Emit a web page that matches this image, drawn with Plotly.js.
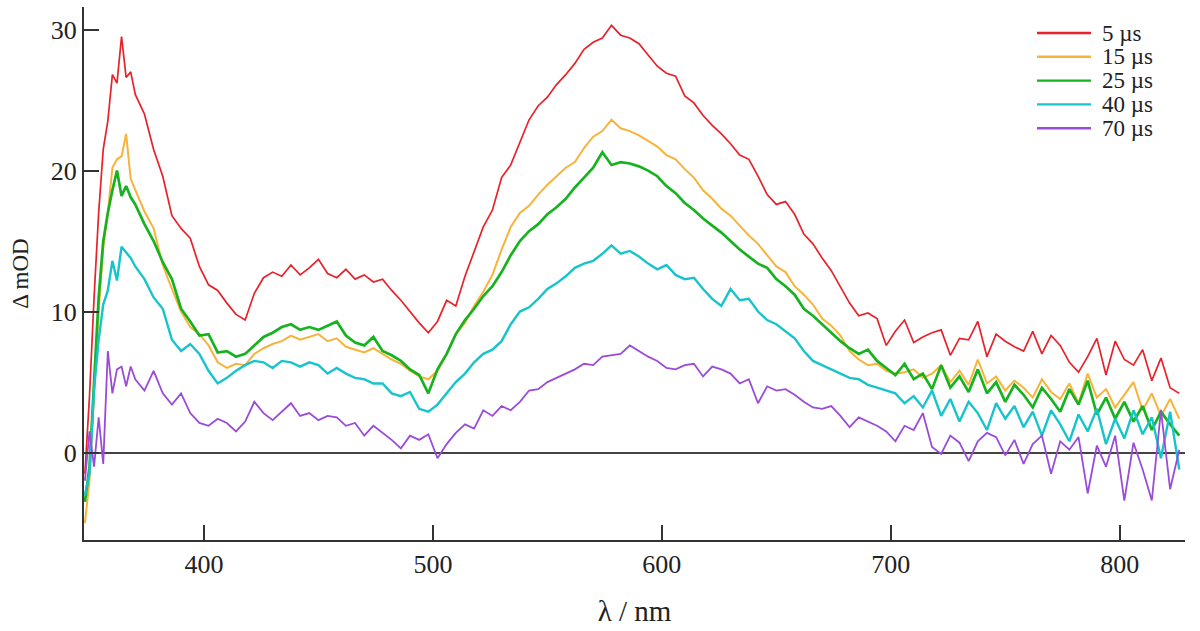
<!DOCTYPE html>
<html>
<head>
<meta charset="utf-8">
<script src="https://cdn.plot.ly/plotly-3.0.1.min.js"></script>
<style>html,body{margin:0;padding:0;background:#fff;}#chart{width:1200px;height:631px;}</style>
</head>
<body>
<div id="chart"></div>
<script>
// Wavelength grid (nm)
const wavelength = [348,350,352,354,356,358,360,362,364,366,368,370,
374,378,382,386,390,394,398,402,406,410,414,418,422,426,430,434,438,442,446,450,
454,458,462,466,470,474,478,482,486,490,494,498,502,506,510,514,518,522,526,530,
534,538,542,546,550,554,558,562,566,570,574,578,582,586,590,594,598,602,606,610,
614,618,622,626,630,634,638,642,646,650,654,658,662,666,670,674,678,682,686,690,
694,698,702,706,710,714,718,722,726,730,734,738,742,746,750,754,758,762,766,770,
774,778,782,786,790,794,798,802,806,810,814,818,822,826];

const seriesNames = ["5 \u00b5s","15 \u00b5s","25 \u00b5s","40 \u00b5s","70 \u00b5s"];

const mOD_5us = [-1.5,4.0,11.0,17.0,21.5,23.5,26.8,26.2,29.5,26.6,27.0,25.4,
24.0,21.5,19.6,16.8,15.9,15.2,13.2,11.9,11.5,10.6,9.8,9.4,11.3,12.4,12.8,12.5,13.3,12.6,13.1,13.7,
12.7,12.4,13.0,12.3,12.6,12.1,12.3,11.5,10.8,10.0,9.2,8.5,9.3,10.8,10.4,12.5,14.2,16.0,17.2,19.5,
20.4,22.0,23.6,24.6,25.2,26.1,26.8,27.6,28.6,29.1,29.4,30.3,29.6,29.4,29.0,28.2,27.4,26.9,26.7,25.3,
24.8,23.9,23.2,22.6,21.9,21.1,20.8,19.6,18.3,17.6,17.8,16.9,15.5,14.8,13.8,12.9,11.7,10.6,9.7,9.9,
9.5,7.6,8.6,9.4,7.8,8.2,8.5,8.7,6.9,8.1,8.0,9.3,6.8,8.4,7.9,7.5,7.2,8.6,7.0,8.3,
7.6,6.4,5.7,6.8,8.1,5.5,7.9,6.6,6.2,7.3,5.1,6.7,4.6,4.2];

const mOD_15us = [-5.0,-2.0,4.0,10.0,14.5,17.0,20.2,20.8,21.0,22.6,19.4,18.6,
17.1,15.9,13.3,11.6,10.0,8.9,8.4,7.6,6.4,6.0,6.3,6.2,7.0,7.4,7.7,7.9,8.3,8.0,8.2,8.4,
7.9,8.1,7.5,7.3,7.1,7.4,7.0,6.6,6.3,5.8,5.4,5.2,5.8,7.0,8.4,9.2,10.4,11.4,12.6,14.4,
16.0,17.0,17.5,18.3,19.0,19.6,20.2,20.6,21.6,22.4,22.8,23.6,23.0,22.8,22.5,22.1,21.7,21.1,20.8,20.1,
19.5,18.6,18.0,17.3,16.8,16.1,15.4,14.8,14.0,13.2,12.8,11.8,11.2,10.5,9.5,9.0,8.3,7.2,6.6,6.2,
6.3,5.8,5.6,5.7,5.9,5.3,5.6,6.2,5.0,5.8,4.8,6.6,4.9,5.4,4.4,5.1,4.6,3.9,5.2,4.3,
3.8,4.9,3.5,5.6,3.9,4.5,3.2,4.1,5.0,3.0,4.2,2.6,3.8,2.4];

const mOD_25us = [-3.5,-1.0,5.0,11.0,15.0,17.0,18.6,20.0,18.2,18.9,18.1,17.6,
16.2,15.0,13.5,12.3,10.2,9.3,8.3,8.4,7.1,7.2,6.8,7.0,7.6,8.2,8.5,8.9,9.1,8.7,8.9,8.7,
9.0,9.3,8.3,7.8,7.6,8.2,7.2,6.9,6.5,5.9,5.5,4.2,5.9,7.0,8.4,9.4,10.2,11.1,11.8,12.8,
14.0,15.0,15.7,16.2,16.9,17.4,18.0,18.8,19.5,20.2,21.3,20.4,20.6,20.5,20.3,20.0,19.6,18.9,18.4,17.7,
17.2,16.6,16.1,15.6,15.0,14.4,13.9,13.4,13.1,12.3,11.8,11.2,10.2,9.7,9.1,8.5,7.9,7.4,7.0,7.3,
6.5,6.0,5.5,6.3,5.2,5.6,4.5,6.2,4.6,5.4,4.3,5.9,4.2,5.0,3.6,4.8,4.1,3.2,4.6,3.8,
2.9,4.5,3.4,5.1,2.7,3.9,2.4,3.6,2.2,3.3,1.6,2.9,2.0,1.2];

const mOD_40us = [-3.0,-1.5,4.5,8.0,10.5,11.5,13.6,12.2,14.6,14.2,13.8,13.2,
12.3,11.0,10.2,8.0,7.2,7.7,7.0,5.8,4.9,5.3,5.8,6.2,6.5,6.4,6.0,6.5,6.4,6.1,6.4,6.2,
5.6,6.0,5.6,5.3,5.2,4.9,4.9,4.2,4.0,4.3,3.1,2.9,3.4,4.2,5.0,5.6,6.4,7.0,7.3,7.9,
9.1,10.0,10.3,10.9,11.6,12.0,12.5,13.1,13.4,13.6,14.1,14.7,14.1,14.3,13.9,13.4,13.0,13.3,12.6,12.3,
12.4,11.6,10.9,10.4,11.6,10.8,10.9,10.0,9.4,9.1,8.6,8.1,7.2,6.5,6.2,5.9,5.6,5.3,5.2,4.8,
4.6,4.4,4.2,3.5,4.0,3.2,4.4,2.6,3.8,2.2,3.6,2.8,1.6,3.5,2.4,3.3,1.8,2.9,1.2,3.0,
2.0,0.8,2.7,1.5,3.1,0.6,2.4,1.0,3.0,1.3,2.5,-0.4,2.9,-1.2];

const mOD_70us = [-2.0,1.5,-1.0,2.5,-0.8,7.2,4.2,5.9,6.1,4.7,6.1,5.2,
4.4,5.8,4.2,3.4,4.2,2.8,2.1,1.9,2.4,2.1,1.5,2.2,3.6,2.8,2.3,2.9,3.5,2.6,2.8,2.3,
2.6,2.5,1.9,2.1,1.2,1.9,1.4,0.9,0.3,1.2,0.9,1.3,-0.4,0.6,1.4,2.0,1.7,3.0,2.6,3.3,
3.0,3.6,4.4,4.5,5.0,5.3,5.6,5.9,6.3,6.2,6.8,6.9,7.0,7.6,7.2,6.8,6.5,6.0,5.9,6.2,
6.3,5.4,6.1,5.9,5.6,4.9,5.2,3.5,4.7,4.4,4.5,4.1,3.6,3.2,3.1,3.3,2.6,1.8,2.5,2.2,
1.9,1.5,0.8,1.9,1.6,2.8,0.4,-0.1,1.2,0.7,-0.6,0.8,1.4,1.1,-0.2,0.9,-0.8,0.6,1.2,-1.5,
0.8,0.2,1.1,-2.9,0.5,-1.0,1.2,-3.4,0.7,-1.2,-3.4,3.0,-2.6,0.2];

const xTicks = [400,500,600,700,800];
const yTicks = [0,10,20,30];

const series = [mOD_5us, mOD_15us, mOD_25us, mOD_40us, mOD_70us];
const colors = ["#e8222a","#f7b33a","#17b21f","#18c4cc","#9a4bd8"];
const widths = [1.7,2.0,2.7,2.4,1.8];

const traces = series.map((ys, i) => ({
  x: wavelength, y: ys, type: "scatter", mode: "lines",
  name: seriesNames[i],
  line: {color: colors[i], width: widths[i]}
}));

const font = {family: "'Liberation Serif', 'Times New Roman', serif", color: "#222"};

// Key (legend) drawn as paper-anchored annotations and short line samples
const plotL = 84, plotW = 1101, plotT = 7, plotH = 533;
const keyX0 = (1037 - plotL) / plotW, keyX1 = (1091 - plotL) / plotW, keyTextX = (1100 - plotL) / plotW;
const keyY = i => 1 - ((33 + 23.8 * i) - plotT) / plotH;
const keyShapes = seriesNames.map((n, i) => ({
  type: "line", xref: "paper", yref: "paper", x0: keyX0, x1: keyX1, y0: keyY(i), y1: keyY(i),
  line: {color: colors[i], width: 2.4}
}));
const keyText = seriesNames.map((n, i) => ({
  xref: "paper", yref: "paper", x: keyTextX, y: keyY(i), xanchor: "left", yanchor: "middle",
  text: n, showarrow: false, font: Object.assign({size: 23}, font)
}));

const layout = {
  width: 1200, height: 631,
  margin: {l: 84, r: 15, t: 7, b: 91},
  paper_bgcolor: "#fff", plot_bgcolor: "#fff",
  font: Object.assign({size: 22}, font),
  showlegend: false,
  shapes: keyShapes,
  annotations: keyText,
  xaxis: {
    range: [347.6, 828.5], tickvals: xTicks, ticks: "inside", ticklen: 15, tickwidth: 2,
    tickcolor: "#333", showline: true, linecolor: "#333", linewidth: 2,
    showgrid: false, zeroline: false, tickfont: Object.assign({size: 26}, font),
    title: {text: "\u03bb / nm", font: Object.assign({size: 29}, font), standoff: 22}
  },
  yaxis: {
    range: [-6.2, 31.6], tickvals: yTicks, ticks: "inside", ticklen: 15, tickwidth: 2,
    tickcolor: "#333", showline: true, linecolor: "#333", linewidth: 2,
    showgrid: false, zeroline: true, zerolinecolor: "#444", zerolinewidth: 2,
    tickfont: Object.assign({size: 26}, font),
    title: {text: "\u0394 mOD", font: Object.assign({size: 23}, font), standoff: 16}
  }
};

Plotly.newPlot("chart", traces, layout, {displayModeBar: false, staticPlot: true});
</script>
</body>
</html>
